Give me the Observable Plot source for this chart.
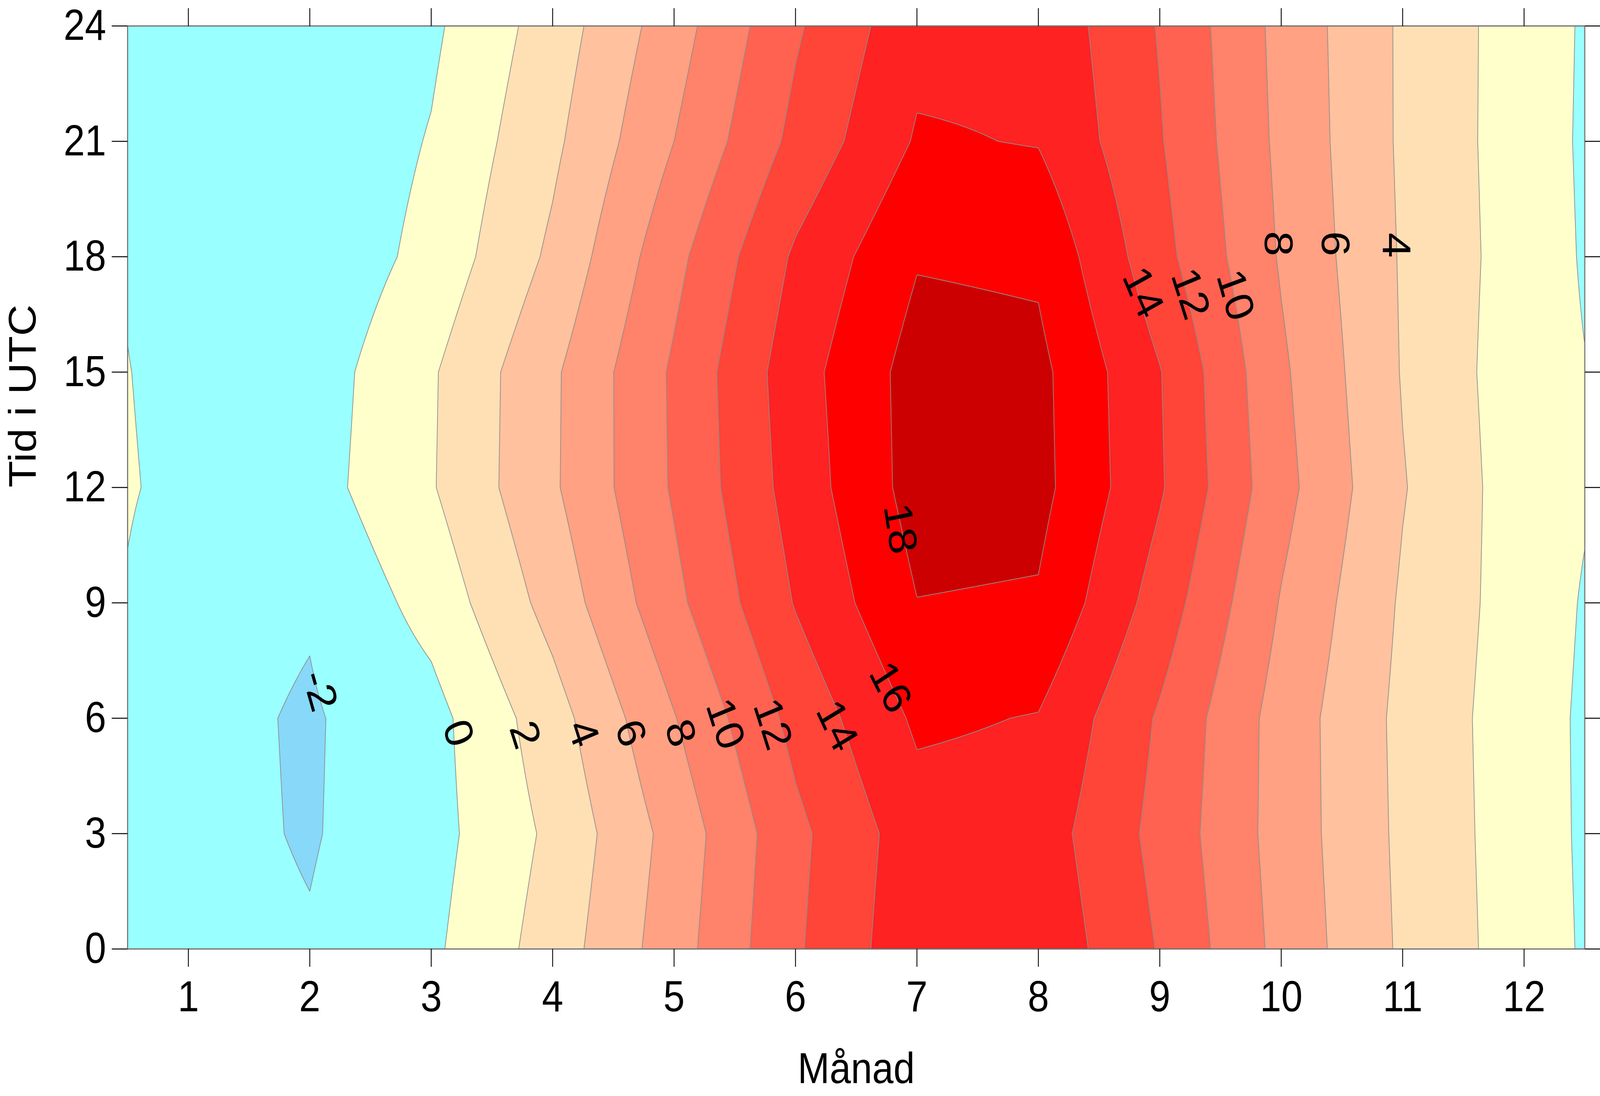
<!DOCTYPE html>
<html>
<head>
<meta charset="utf-8">
<script src="https://cdn.jsdelivr.net/npm/d3@7"></script>
<script src="https://cdn.jsdelivr.net/npm/@observablehq/plot@0.6"></script>
<style>
  html, body { margin: 0; padding: 0; background: #ffffff; overflow: hidden; }
  #chart { width: 100vw; height: 100vh; overflow: hidden; }
  svg { display: block; }
</style>
</head>
<body>
<div id="chart"></div>
<script>
// Grid columns: month (0.5 and 12.5 are the edge columns), rows: hour (UTC)
const months = [0.5, 1, 2, 3, 4, 5, 6, 7, 8, 9, 10, 11, 12, 12.5];
const hours = [0, 3, 6, 9, 12, 15, 18, 21, 24];

// Temperature (°C) per hour row, one value per month column
const t00 = [-0.19, -1.35, -1.85, -0.37, 2.92, 7.11, 11.73, 15.39, 15.49, 11.86, 7.41, 3.70, 0.98, -0.19];
const t03 = [-0.26, -1.44, -2.15, -0.73, 2.41, 6.74, 11.50, 15.12, 15.01, 11.39, 7.19, 3.59, 0.92, -0.26];
const t06 = [-0.28, -1.44, -2.20, -0.69, 3.15, 7.90, 12.62, 16.33, 15.90, 11.76, 7.17, 3.51, 0.88, -0.28];
const t09 = [-0.14, -1.29, -1.83, 0.71, 4.73, 9.48, 14.12, 17.96, 17.80, 13.12, 7.87, 3.75, 1.01, -0.14];
const t12 = [0.16, -0.56, -0.83, 1.84, 5.72, 10.23, 14.85, 18.79, 18.62, 14.22, 8.68, 4.13, 0.90, 0.16];
const t15 = [0.05, -0.70, -1.04, 1.77, 5.67, 10.30, 15.13, 18.81, 18.53, 14.09, 8.34, 3.88, 0.80, 0.05];
const t18 = [-0.16, -1.33, -1.60, 0.62, 4.39, 9.41, 14.30, 17.85, 17.65, 12.70, 7.80, 3.81, 1.01, -0.16];
const t21 = [-0.24, -1.43, -1.70, 0.13, 3.57, 8.00, 12.54, 16.20, 15.90, 12.15, 7.55, 3.70, 0.95, -0.24];
const t24 = [-0.19, -1.35, -1.85, -0.37, 2.92, 7.11, 11.73, 15.39, 15.49, 11.86, 7.41, 3.70, 0.98, -0.19];

// Contour levels and band colours
const thresholds = [-4, -2, 0, 2, 4, 6, 8, 10, 12, 14, 16, 18];
const bandBreaks = [-2, 0, 2, 4, 6, 8, 10, 12, 14, 16, 18];
const bandColors = ["#88d8fa", "#99ffff", "#ffffcc", "#ffe0b4", "#ffc19e", "#ffa182",
                    "#ff826a", "#ff6250", "#ff4438", "#ff2222", "#ff0000", "#cc0000"];

// Axis ticks
const monthTicks = [1, 2, 3, 4, 5, 6, 7, 8, 9, 10, 11, 12];
const hourTicks = [0, 3, 6, 9, 12, 15, 18, 21, 24];

// Contour labels
const labelText  = ["-2", "0", "2", "4", "6", "8", "10", "12", "14", "16", "18", "14", "12", "10", "8", "6", "4"];
const labelMonth = [2.08, 3.22, 3.77, 4.25, 4.64, 5.05, 5.42, 5.81, 6.34, 6.78, 6.86, 8.86, 9.25, 9.62, 9.97, 10.44, 10.94];
const labelHour  = [6.72, 5.61, 5.57, 5.61, 5.61, 5.61, 5.85, 5.85, 5.8, 6.8, 10.93, 17.07, 17.04, 17.0, 18.34, 18.34, 18.3];
const labelAngle = [72, 72, 70, 70, 70, 70, 70, 70, 62, 60, 80, 64, 70, 72, 90, 90, 90];

const grid = [t00, t03, t06, t09, t12, t15, t18, t21, t24];
const labels = labelText.map((t, i) => ({text: t, month: labelMonth[i], hour: labelHour[i], angle: labelAngle[i]}));

function temperature(x, y) {
  let i = d3.bisectRight(months, x) - 1;
  i = Math.max(0, Math.min(months.length - 2, i));
  let j = d3.bisectRight(hours, y) - 1;
  j = Math.max(0, Math.min(hours.length - 2, j));
  const tx = (x - months[i]) / (months[i + 1] - months[i]);
  const ty = (y - hours[j]) / (hours[j + 1] - hours[j]);
  const r0 = grid[j], r1 = grid[j + 1];
  const a = (1 - tx) * r0[i] + tx * r0[i + 1];
  const b = (1 - tx) * r1[i] + tx * r1[i + 1];
  return (1 - ty) * a + ty * b;
}

const FS = 112;
const TICK = 46;

const chart = Plot.plot({
  width: 4682,
  height: 2807,
  marginLeft: 373,
  marginRight: 45,
  marginTop: 66,
  marginBottom: 377,
  style: {fontFamily: "'Liberation Sans', Arial, sans-serif", fontSize: FS + "px", background: "#ffffff", color: "#000000"},
  x: {domain: [0.5, 12.5]},
  y: {domain: [0, 24]},
  color: {type: "threshold", domain: bandBreaks, range: bandColors},
  marks: [
    Plot.contour({
      value: temperature,
      x1: 0.5, x2: 12.5, y1: 0, y2: 24,
      pixelSize: 2,
      thresholds,
      fill: "value",
      stroke: "#8c8c8c",
      strokeWidth: 2
    }),
    Plot.text(labels, {
      x: "month", y: "hour", text: "text", rotate: "angle",
      fontSize: 116, fill: "#000000", lineAnchor: "middle", textAnchor: "middle"
    }),
    Plot.frame({stroke: "#707070", strokeWidth: 3}),
    Plot.axisX({anchor: "bottom", ticks: monthTicks, tickSize: TICK, tickPadding: 34, fontSize: FS, strokeWidth: 2.5, label: null}),
    Plot.axisX({anchor: "top", ticks: monthTicks, tickSize: TICK, tickFormat: () => "", strokeWidth: 2.5, label: null}),
    Plot.axisY({anchor: "left", ticks: hourTicks, tickSize: TICK, tickPadding: 17, fontSize: FS, strokeWidth: 2.5, label: null}),
    Plot.axisY({anchor: "right", ticks: hourTicks, tickSize: TICK, tickFormat: () => "", strokeWidth: 2.5, label: null}),
    Plot.text(["Månad"], {frameAnchor: "bottom", dy: 308, lineAnchor: "middle", fontSize: FS, fill: "#000000"}),
    Plot.text(["Tid i UTC"], {frameAnchor: "left", dx: -305, rotate: -90, lineAnchor: "middle", fontSize: FS, fill: "#000000"})
  ]
});

// The window may be narrower than the 4682x2807 design: stretch the SVG so
// the whole 4682x2807 layout fills the window in both directions.
chart.setAttribute("preserveAspectRatio", "none");
chart.style.width = "100vw";
chart.style.height = "100vh";
chart.style.maxWidth = "none";
document.getElementById("chart").appendChild(chart);
</script>
</body>
</html>
